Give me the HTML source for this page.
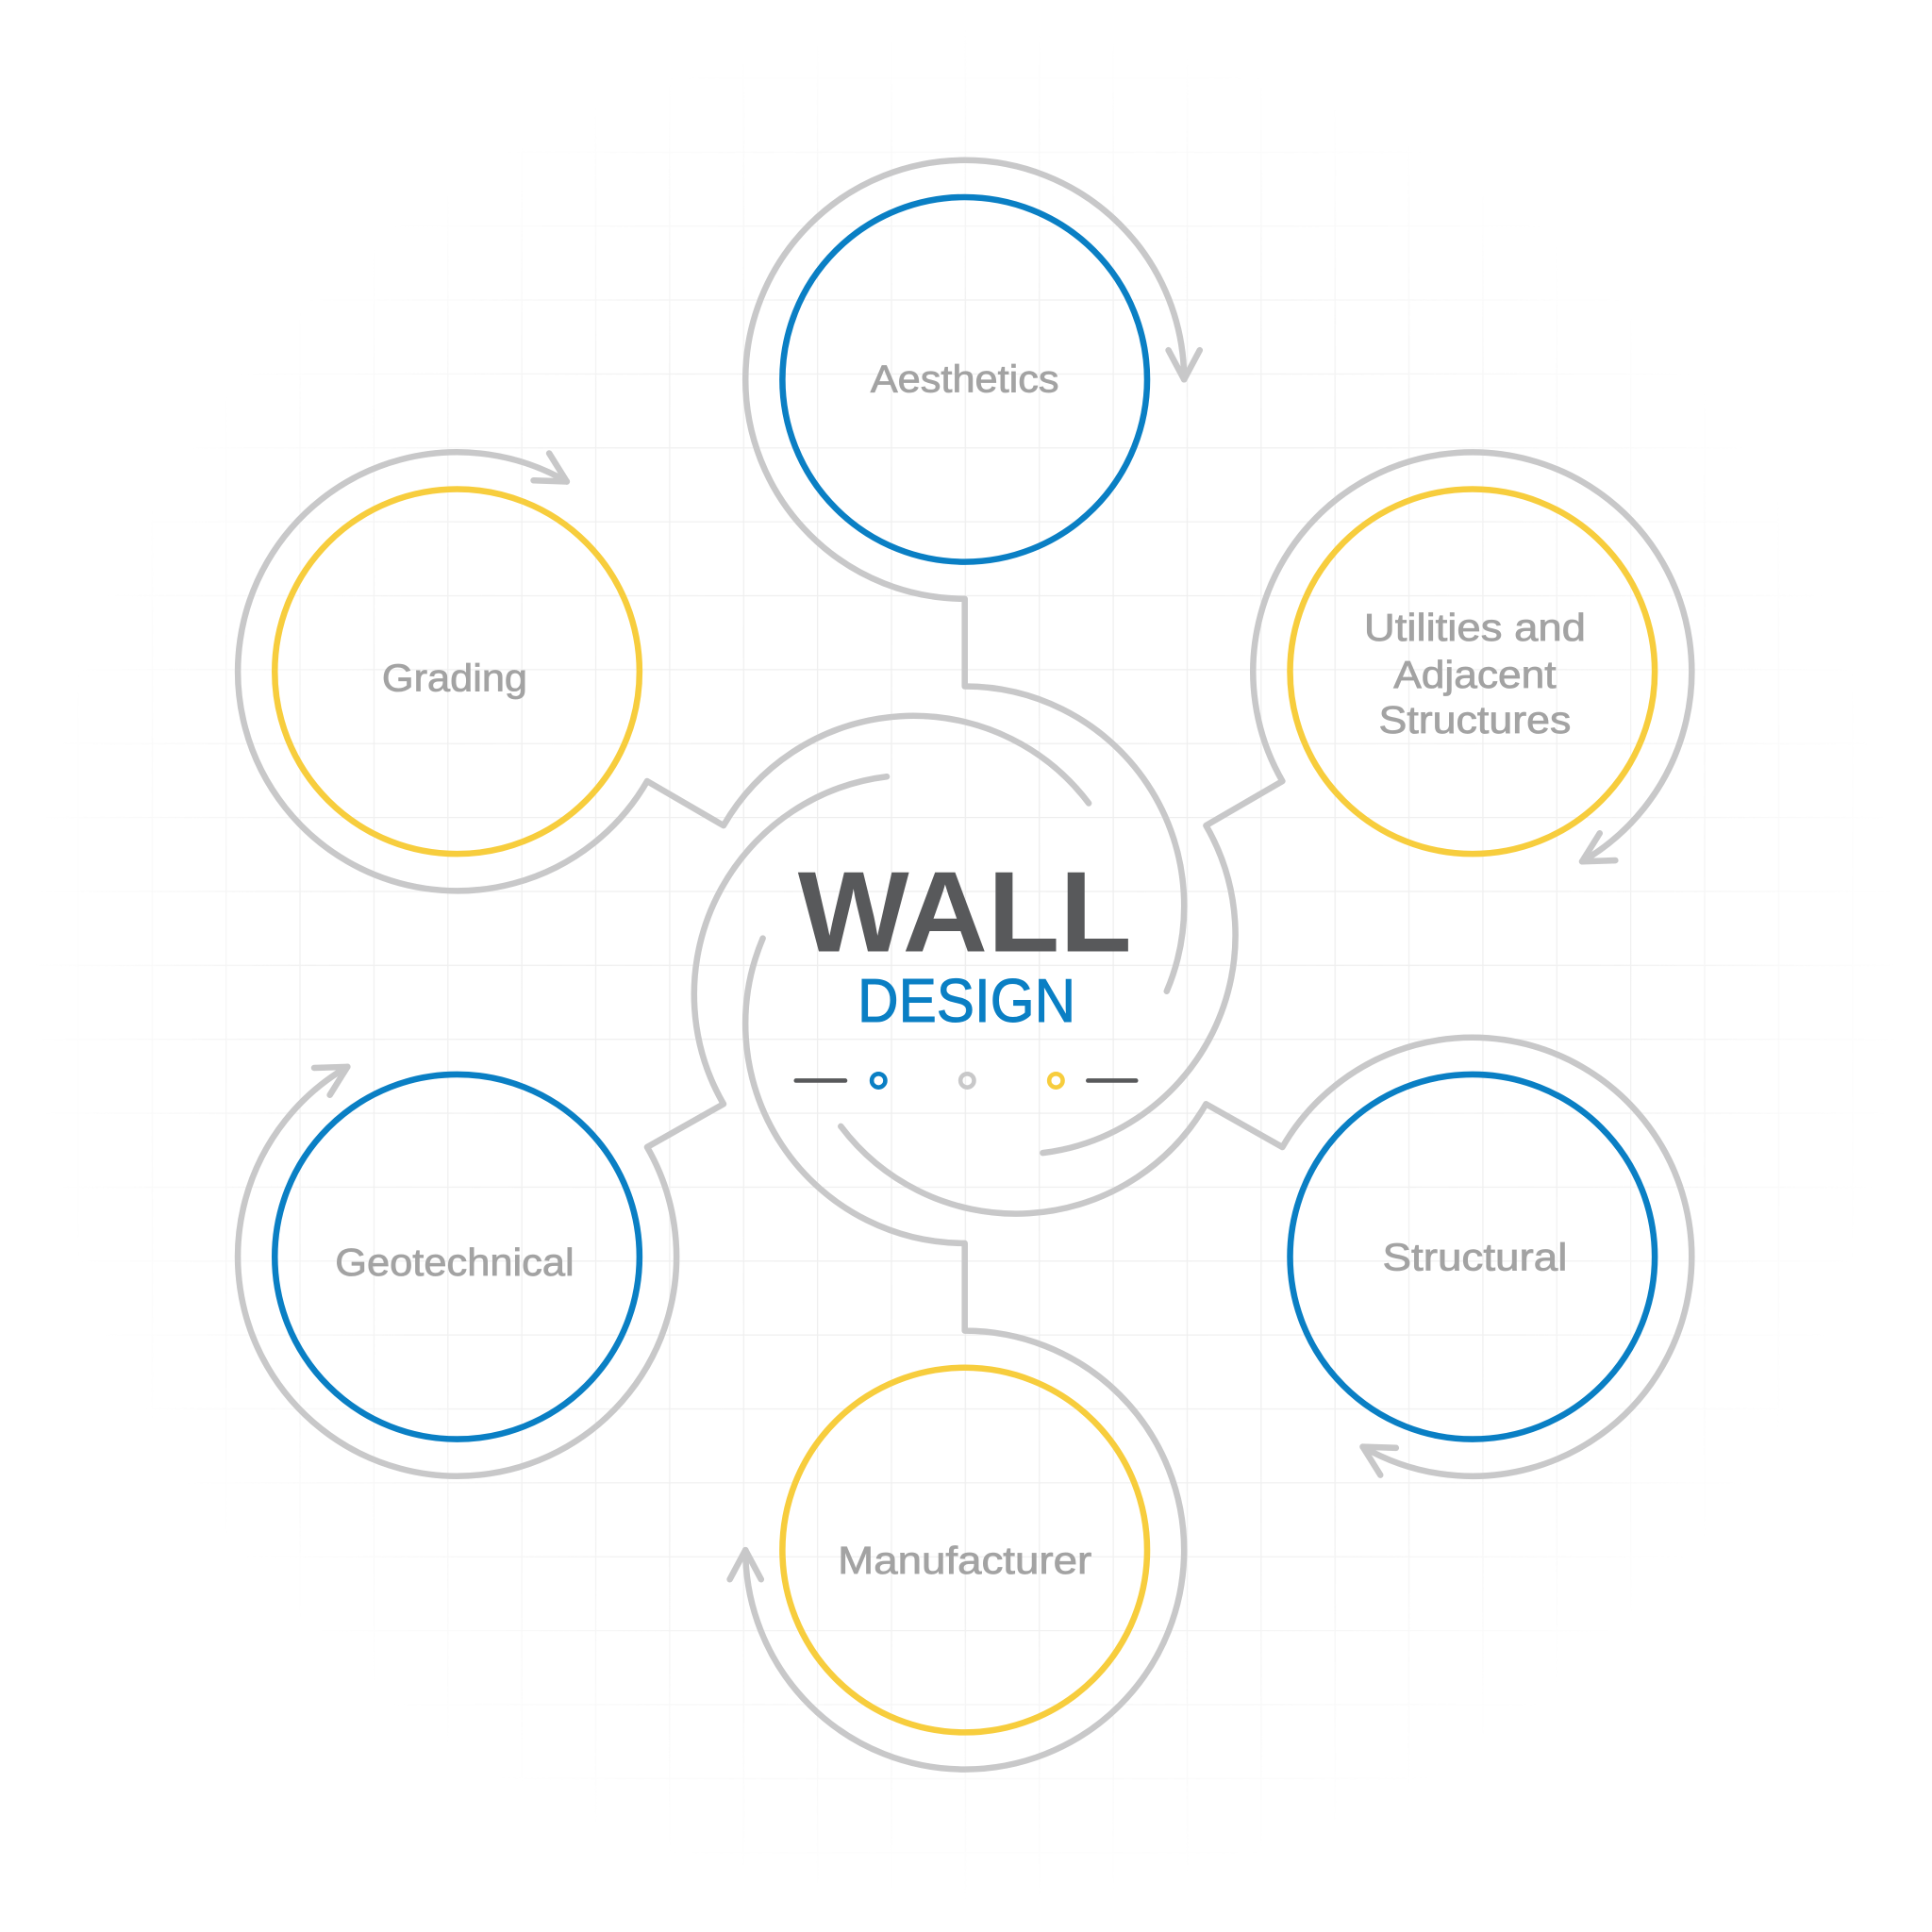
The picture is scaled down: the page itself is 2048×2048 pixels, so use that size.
<!DOCTYPE html>
<html><head><meta charset="utf-8"><style>html,body{margin:0;padding:0;background:#fff}svg{display:block}</style></head>
<body>
<svg width="2048" height="2048" viewBox="0 0 1568 1568" xmlns="http://www.w3.org/2000/svg">
<defs>
<pattern id="g" x="3" y="3" width="60" height="60" patternUnits="userSpaceOnUse">
<path d="M0 0H60M0 0V60" stroke="#ededed" stroke-width="2" fill="none"/>
</pattern>
<radialGradient id="rg" cx="783" cy="783" r="760" gradientUnits="userSpaceOnUse">
<stop offset="0" stop-color="#fff" stop-opacity="1"/>
<stop offset="0.7" stop-color="#fff" stop-opacity="0.8"/>
<stop offset="1" stop-color="#fff" stop-opacity="0"/>
</radialGradient>
<mask id="m"><rect width="1568" height="1568" fill="url(#rg)"/></mask>
</defs>
<rect width="1568" height="1568" fill="#fff"/>
<rect width="1568" height="1568" fill="url(#g)" mask="url(#m)"/>

<g fill="none" stroke="#c8c8c9" stroke-width="5" stroke-linecap="round" stroke-linejoin="round">
<path d="M961 308 A178 178 0 1 0 783 486 L783 557 A178 178 0 0 1 946.9 804.5"/>
<path d="M973.7 284.2 L961 308 L948.3 284.2"/>
<path d="M1284 699.2 A178 178 0 1 0 1040.8 634 L978.8 670 A178 178 0 0 1 846.3 935.7"/>
<path d="M1311 698.3 L1284 699.2 L1298.3 676.3"/>
<path d="M1106 1174.2 A178 178 0 1 0 1040.8 931 L978.8 896 A178 178 0 0 1 682.4 914.1"/>
<path d="M1120.3 1197.1 L1106 1174.2 L1133 1175.1"/>
<path d="M605 1258 A178 178 0 1 0 783 1080 L783 1009 A178 178 0 0 1 619.1 761.5"/>
<path d="M592.3 1281.8 L605 1258 L617.7 1281.8"/>
<path d="M282 865.8 A178 178 0 1 0 525.2 931 L587.2 896 A178 178 0 0 1 719.7 630.3"/>
<path d="M255 866.7 L282 865.8 L267.7 888.7"/>
<path d="M460 390.8 A178 178 0 1 0 525.2 634 L587.2 670 A178 178 0 0 1 883.6 651.9"/>
<path d="M445.7 367.9 L460 390.8 L433 389.9"/>
</g>

<g fill="none" stroke-width="5">
<circle cx="783" cy="308" r="148" stroke="#0a7fc4"/>
<circle cx="1195" cy="545" r="148" stroke="#f7cd3d"/>
<circle cx="1195" cy="1020" r="148" stroke="#0a7fc4"/>
<circle cx="783" cy="1258" r="148" stroke="#f7cd3d"/>
<circle cx="371" cy="1020" r="148" stroke="#0a7fc4"/>
<circle cx="371" cy="545" r="148" stroke="#f7cd3d"/>
</g>

<g font-family="Liberation Sans, sans-serif" font-size="31" fill="#a3a3a3" stroke="#a3a3a3" stroke-width="0.6" text-anchor="middle">
<text x="783" y="318" textLength="153" lengthAdjust="spacingAndGlyphs">Aesthetics</text>
<text x="1197" y="520" textLength="180" lengthAdjust="spacingAndGlyphs">Utilities and</text>
<text x="1197" y="558" textLength="132" lengthAdjust="spacingAndGlyphs">Adjacent</text>
<text x="1197" y="595" textLength="156" lengthAdjust="spacingAndGlyphs">Structures</text>
<text x="369" y="561" textLength="118" lengthAdjust="spacingAndGlyphs">Grading</text>
<text x="369" y="1035" textLength="194" lengthAdjust="spacingAndGlyphs">Geotechnical</text>
<text x="1197" y="1031" textLength="150" lengthAdjust="spacingAndGlyphs">Structural</text>
<text x="783" y="1277" textLength="206" lengthAdjust="spacingAndGlyphs">Manufacturer</text>
</g>

<text x="783" y="772" font-family="Liberation Sans, sans-serif" font-weight="bold" font-size="93" fill="#58595b" text-anchor="middle" textLength="271" lengthAdjust="spacingAndGlyphs">WALL</text>
<text x="784.5" y="829" font-family="Liberation Sans, sans-serif" font-size="50" fill="#0a7fc4" stroke="#0a7fc4" stroke-width="0.8" text-anchor="middle" textLength="177" lengthAdjust="spacingAndGlyphs">DESIGN</text>

<g stroke-width="3.5" fill="none" stroke-linecap="round">
<line x1="646" y1="877" x2="686" y2="877" stroke="#58595b"/>
<line x1="883" y1="877" x2="922" y2="877" stroke="#58595b"/>
<circle cx="713" cy="877" r="5.5" stroke="#0a7fc4"/>
<circle cx="785" cy="877" r="5.5" stroke="#c8c8c9"/>
<circle cx="857" cy="877" r="5.5" stroke="#f7cd3d"/>
</g>
</svg>
</body></html>
